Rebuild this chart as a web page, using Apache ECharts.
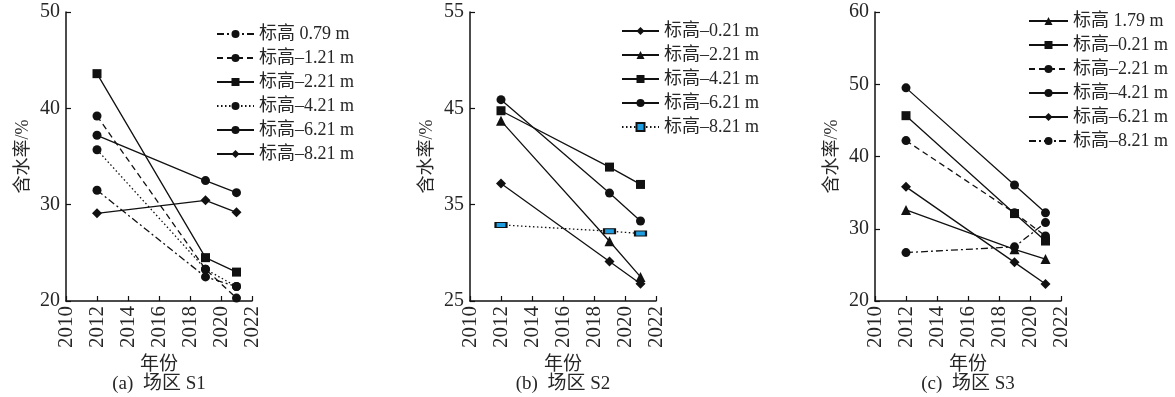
<!DOCTYPE html>
<html>
<head>
<meta charset="utf-8">
<script src="https://cdn.jsdelivr.net/npm/echarts@6/dist/echarts.min.js"></script>
<style>
  html, body { margin: 0; padding: 0; background: #fff; }
  #chart { width: 1175px; height: 397px; }
</style>
</head>
<body>
<div id="chart"></div>
<script>
// años de medición (eje x)
const years = [2012, 2019, 2021];

// 场区 S1
const s1Names = ['标高 0.79 m', '标高–1.21 m', '标高–2.21 m', '标高–4.21 m', '标高–6.21 m', '标高–8.21 m'];
const s1E079 = [31.5, 22.5, 21.5];
const s1E121 = [39.2, 23.3, 20.3];
const s1E221 = [43.6, 24.5, 23.0];
const s1E421 = [35.7, 23.3, 21.5];
const s1E621 = [37.2, 32.5, 31.25];
const s1E821 = [29.1, 30.45, 29.2];

// 场区 S2
const s2Names = ['标高–0.21 m', '标高–2.21 m', '标高–4.21 m', '标高–6.21 m', '标高–8.21 m'];
const s2E021 = [37.2, 29.1, 26.8];
const s2E221 = [43.7, 31.2, 27.5];
const s2E421 = [44.75, 38.9, 37.1];
const s2E621 = [45.9, 36.2, 33.3];
const s2E821 = [32.9, 32.25, 32.0];

// 场区 S3
const s3Names = ['标高 1.79 m', '标高–0.21 m', '标高–2.21 m', '标高–4.21 m', '标高–6.21 m', '标高–8.21 m'];
const s3E179 = [32.6, 27.15, 25.8];
const s3E021 = [45.65, 32.1, 28.3];
const s3E221 = [42.2, 32.2, 29.0];
const s3E421 = [49.5, 36.05, 32.2];
const s3E621 = [35.8, 25.35, 22.35];
const s3E821 = [26.7, 27.5, 30.85];

const yRanges = [[20, 50], [25, 55], [20, 60]];
const captions = ['(a)  场区 S1', '(b)  场区 S2', '(c)  场区 S3'];

const FONT = '"Liberation Serif", "Noto Sans CJK SC", serif';
const INK = '#111';
const TXT = '#262626';
const DASHDOT = [7, 3, 2, 3];
const DASHED = [6, 4];
const DOTTED = [1.5, 2.5];

const gridLefts = [66, 470, 875];
const gridW = 186;
const gridTop = 12;
const gridH = 289;

function mk(name, vals, idx, symbol, lineType, size, extra) {
    const s = {
        type: 'line',
        name: name,
        xAxisIndex: idx,
        yAxisIndex: idx,
        data: years.map((y, i) => [y, vals[i]]),
        symbol: symbol,
        symbolSize: size,
        showSymbol: true,
        lineStyle: { color: INK, width: 1.3, type: lineType },
        itemStyle: { color: INK },
        z: 2
    };
    return Object.assign(s, extra || {});
}

const blueRect = { itemStyle: { color: '#1e9ee0', borderColor: INK, borderWidth: 1.5 } };

const series = [
    mk(s1Names[0], s1E079, 0, 'circle', DASHDOT, 9),
    mk(s1Names[1], s1E121, 0, 'circle', DASHED, 9),
    mk(s1Names[2], s1E221, 0, 'rect', 'solid', 9),
    mk(s1Names[3], s1E421, 0, 'circle', DOTTED, 9),
    mk(s1Names[4], s1E621, 0, 'circle', 'solid', 9),
    mk(s1Names[5], s1E821, 0, 'diamond', 'solid', 10),

    mk(s2Names[0] + ' ', s2E021, 1, 'diamond', 'solid', 10),
    mk(s2Names[1] + ' ', s2E221, 1, 'triangle', 'solid', 10),
    mk(s2Names[2] + ' ', s2E421, 1, 'rect', 'solid', 9),
    mk(s2Names[3] + ' ', s2E621, 1, 'circle', 'solid', 9),
    mk(s2Names[4] + ' ', s2E821, 1, 'rect', DOTTED, [11, 5], blueRect),

    mk(s3Names[0] + '  ', s3E179, 2, 'triangle', 'solid', 10),
    mk(s3Names[1] + '  ', s3E021, 2, 'rect', 'solid', 9),
    mk(s3Names[2] + '  ', s3E221, 2, 'circle', DASHED, 9),
    mk(s3Names[3] + '  ', s3E421, 2, 'circle', 'solid', 9),
    mk(s3Names[4] + '  ', s3E621, 2, 'diamond', 'solid', 10),
    mk(s3Names[5] + '  ', s3E821, 2, 'circle', DASHDOT, 9)
];

const grids = gridLefts.map(l => ({ left: l, top: gridTop, width: gridW, height: gridH }));

const xAxes = gridLefts.map((l, i) => ({
    type: 'value',
    gridIndex: i,
    min: 2010,
    max: 2022,
    interval: 2,
    name: '年份',
    nameLocation: 'middle',
    nameGap: 45,
    nameTextStyle: { fontFamily: FONT, fontSize: 19, color: TXT },
    axisLine: { lineStyle: { color: INK, width: 1.5 } },
    axisTick: { inside: true, length: 5, lineStyle: { color: INK, width: 1.2 } },
    axisLabel: {
        rotate: 90, margin: 5, fontFamily: FONT, fontSize: 21, color: TXT,
        formatter: v => String(v)
    },
    splitLine: { show: false }
}));

const yAxes = yRanges.map((r, i) => ({
    type: 'value',
    gridIndex: i,
    min: r[0],
    max: r[1],
    interval: 10,
    name: '含水率/%',
    nameLocation: 'middle',
    nameGap: 34,
    nameTextStyle: { fontFamily: FONT, fontSize: 18, color: TXT },
    axisLine: { show: true, lineStyle: { color: INK, width: 1.5 } },
    axisTick: { show: true, inside: true, length: 5, lineStyle: { color: INK, width: 1.2 } },
    axisLabel: { margin: 6, fontFamily: FONT, fontSize: 20, color: TXT },
    splitLine: { show: false }
}));

const legendBase = {
    orient: 'vertical',
    padding: 0,
    itemWidth: 37,
    itemHeight: 10,
    itemGap: 6,
    textStyle: { fontFamily: FONT, fontSize: 18, lineHeight: 18, color: TXT },
    selectedMode: false
};

const legends = [
    Object.assign({}, legendBase, { left: 216, top: 25, data: series.slice(0, 6).map(s => s.name) }),
    Object.assign({}, legendBase, { left: 621, top: 22, data: series.slice(6, 11).map(s => s.name) }),
    Object.assign({}, legendBase, { left: 1028, top: 12, itemWidth: 39, data: series.slice(11).map(s => s.name) })
];

const chart = echarts.init(document.getElementById('chart'));
chart.setOption({
    animation: false,
    backgroundColor: '#fff',
    grid: grids,
    xAxis: xAxes,
    yAxis: yAxes,
    legend: legends,
    series: series,
    graphic: captions.map((c, i) => ({
        type: 'text',
        x: gridLefts[i] + gridW / 2,
        y: 384,
        style: { text: c, font: '19px ' + FONT, fill: TXT, align: 'center', verticalAlign: 'middle' }
    }))
});
</script>
</body>
</html>
